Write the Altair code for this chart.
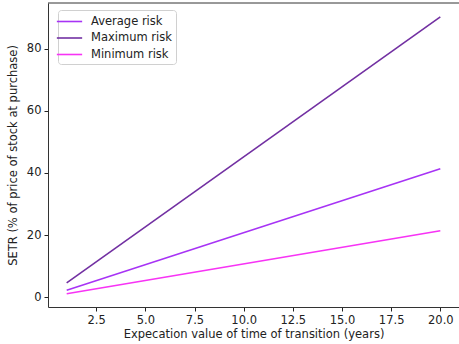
import altair as alt
import pandas as pd

# Expected transition time (years) and the resulting SETR for each risk level
years = [1, 20]
average_risk = [2.2, 41.4]
maximum_risk = [4.6, 90.3]
minimum_risk = [1.07, 21.4]

series = ["Average risk", "Maximum risk", "Minimum risk"]
colors = ["#a733f5", "#7230a2", "#f733f5"]

rows = []
for name, vals in zip(series, [average_risk, maximum_risk, minimum_risk]):
    for x, y in zip(years, vals):
        rows.append({"years": x, "setr": y, "risk": name})
df = pd.DataFrame(rows)

FONT = "DejaVu Sans"
W, H = 411, 304

lines = (
    alt.Chart(df)
    .mark_line(strokeWidth=1.6, clip=True)
    .encode(
        x=alt.X(
            "years:Q",
            scale=alt.Scale(domain=[0.05, 20.95], nice=False, zero=False),
            axis=alt.Axis(
                title="Expecation value of time of transition (years)",
                values=[2.5, 5, 7.5, 10, 12.5, 15, 17.5, 20],
                format=".1f",
                grid=False,
                domain=True,
                domainColor="#333",
                tickSize=4,
                tickColor="#222",
                labelPadding=3,
                titlePadding=3,
            ),
        ),
        y=alt.Y(
            "setr:Q",
            scale=alt.Scale(domain=[-3.2, 94.8], nice=False, zero=False),
            axis=alt.Axis(
                title="SETR (% of price of stock at purchase)",
                values=[0, 20, 40, 60, 80],
                grid=False,
                domain=True,
                domainColor="#333",
                tickSize=4,
                tickColor="#222",
                labelPadding=3,
                titlePadding=8,
            ),
        ),
        color=alt.Color(
            "risk:N",
            scale=alt.Scale(domain=series, range=colors),
            legend=alt.Legend(
                title=None,
                orient="none",
                legendX=10,
                legendY=7,
                symbolType="M-2,0L2,0",
                symbolSize=160,
                symbolStrokeWidth=1.6,
                labelFontSize=11.5,
                labelOffset=14,
                rowPadding=3.5,
                padding=4,
                strokeColor="#d0d0d0",
                cornerRadius=3,
                fillColor="white",
            ),
        ),
    )
)

# top spine of the frame
top_spine = (
    alt.Chart(pd.DataFrame({"k": [0]}))
    .mark_rule(color="#333", strokeWidth=1)
    .encode(y=alt.value(0), x=alt.value(0), x2=alt.value(W))
)

chart = (
    alt.layer(lines, top_spine)
    .properties(
        width=W,
        height=H,
        autosize=alt.AutoSizeParams(type="none"),
        padding={"left": 48, "top": 3, "right": 0, "bottom": 37},
    )
    .configure_view(stroke=None)
    .configure_axis(
        labelFont=FONT,
        titleFont=FONT,
        labelFontSize=11.5,
        titleFontSize=11.5,
        titleFontWeight="normal",
        labelColor="#222",
        titleColor="#222",
    )
    .configure_legend(labelFont=FONT, labelColor="#222")
)

chart.save("out.html", embed_options={"renderer": "svg", "actions": False})
